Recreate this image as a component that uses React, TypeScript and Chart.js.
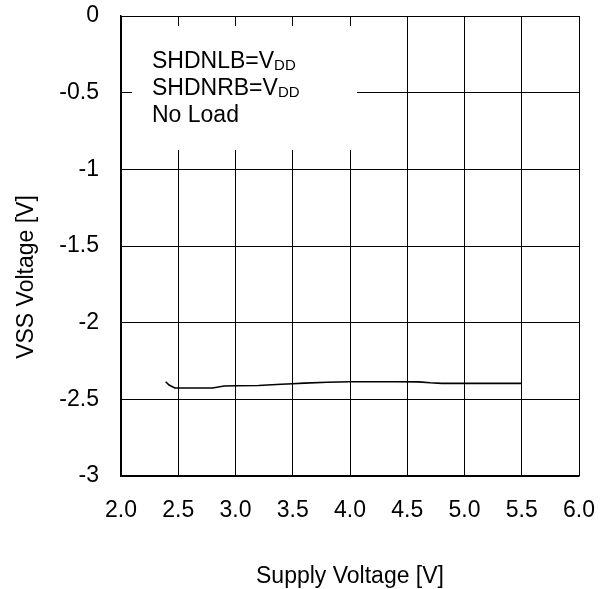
import React, { useEffect, useRef } from "react";
import { Chart, registerables } from "chart.js";

Chart.register(...registerables);

const supplyVoltage = [2.39, 2.42, 2.47, 2.5, 2.6, 2.7, 2.8, 2.9, 3.0, 3.2, 3.4, 3.5, 3.6, 3.8, 4.0, 4.2, 4.4, 4.6, 4.7, 4.8, 5.0, 5.2, 5.4, 5.5];
const vssVoltage = [-2.385, -2.407, -2.426, -2.426, -2.426, -2.426, -2.426, -2.413, -2.411, -2.41, -2.402, -2.398, -2.394, -2.389, -2.385, -2.385, -2.385, -2.386, -2.392, -2.396, -2.396, -2.396, -2.396, -2.396];

const xTickValues = [2.0, 2.5, 3.0, 3.5, 4.0, 4.5, 5.0, 5.5, 6.0];
const xTickLabels = ["2.0", "2.5", "3.0", "3.5", "4.0", "4.5", "5.0", "5.5", "6.0"];
const yTickValues = [0, -0.5, -1, -1.5, -2, -2.5, -3];
const yTickLabels = ["0", "-0.5", "-1", "-1.5", "-2", "-2.5", "-3"];

const xTitle = "Supply Voltage [V]";
const yTitle = "VSS Voltage [V]";
const noteLines = [
  { main: "SHDNLB=V", sub: "DD" },
  { main: "SHDNRB=V", sub: "DD" },
  { main: "No Load", sub: "" },
];

const FONT = "'Liberation Sans', Arial, sans-serif";

const overlayPlugin = {
  id: "overlay",
  afterDraw(chart: any) {
    const ctx = chart.ctx;
    const area = chart.chartArea;
    ctx.save();
    // white note box
    ctx.fillStyle = "#fff";
    ctx.fillRect(area.left + 11, area.top + 10, 225, 124);
    ctx.fillStyle = "#000";
    ctx.textBaseline = "alphabetic";
    ctx.textAlign = "left";
    const x0 = area.left + 31;
    noteLines.forEach((ln, i) => {
      const by = area.top + 52 + i * 27.2;
      ctx.font = `23px ${FONT}`;
      ctx.fillText(ln.main, x0, by);
      if (ln.sub) {
        const w = ctx.measureText(ln.main).width;
        ctx.font = `15px ${FONT}`;
        ctx.fillText(ln.sub, x0 + w, by + 2);
      }
    });
    // axis titles
    ctx.font = `23px ${FONT}`;
    ctx.textAlign = "center";
    ctx.fillText(xTitle, (area.left + area.right) / 2, 582.5);
    ctx.translate(33, 277);
    ctx.rotate(-Math.PI / 2);
    ctx.fillText(yTitle, 0, 0);
    ctx.restore();
  },
};

export default function App() {
  const ref = useRef<HTMLCanvasElement | null>(null);
  useEffect(() => {
    if (!ref.current) return;
    const points = supplyVoltage.map((x, i) => ({ x, y: vssVoltage[i] }));
    const chart = new Chart(ref.current, {
      type: "line",
      data: {
        datasets: [
          {
            data: points,
            borderColor: "#000",
            borderWidth: 1.6,
            pointRadius: 0,
            tension: 0,
            fill: false,
          },
        ],
      },
      options: {
        animation: false,
        responsive: false,
        maintainAspectRatio: false,
        layout: { padding: { top: 16, right: 29, left: 0, bottom: 0 } },
        plugins: { legend: { display: false }, tooltip: { enabled: false } },
        scales: {
          x: {
            type: "linear",
            min: 2,
            max: 6,
            afterBuildTicks(scale: any) {
              scale.ticks = xTickValues.map((v) => ({ value: v }));
            },
            afterFit(scale: any) {
              scale.height = 113;
            },
            ticks: {
              padding: 0,
              maxRotation: 0,
              color: "#000",
              font: { family: FONT, size: 23 },
              callback: (v: any) => {
                const i = xTickValues.findIndex((t) => Math.abs(t - Number(v)) < 1e-6);
                return i >= 0 ? xTickLabels[i] : "";
              },
            },
            grid: { color: "#000", lineWidth: 1, drawTicks: true, tickLength: 21, tickColor: "rgba(0,0,0,0)" },
            border: { color: "#000", width: 1.5 },
          },
          y: {
            type: "linear",
            min: -3,
            max: 0,
            afterBuildTicks(scale: any) {
              scale.ticks = yTickValues.map((v) => ({ value: v }));
            },
            afterFit(scale: any) {
              scale.width = 121;
            },
            ticks: {
              padding: 0,
              color: "#000",
              font: { family: FONT, size: 23 },
              callback: (v: any) => {
                const i = yTickValues.findIndex((t) => Math.abs(t - Number(v)) < 1e-6);
                return i >= 0 ? yTickLabels[i] : "";
              },
            },
            grid: { color: "#000", lineWidth: 1, drawTicks: true, tickLength: 22, tickColor: "rgba(0,0,0,0)" },
            border: { color: "#000", width: 1.5 },
          },
        },
      },
      plugins: [overlayPlugin],
    });
    return () => chart.destroy();
  }, []);
  return (
    <div style={{ position: "absolute", left: 0, top: 0, width: 608, height: 589, background: "#fff" }}>
      <canvas ref={ref} width={608} height={589} style={{ width: 608, height: 589, display: "block" }} />
    </div>
  );
}
